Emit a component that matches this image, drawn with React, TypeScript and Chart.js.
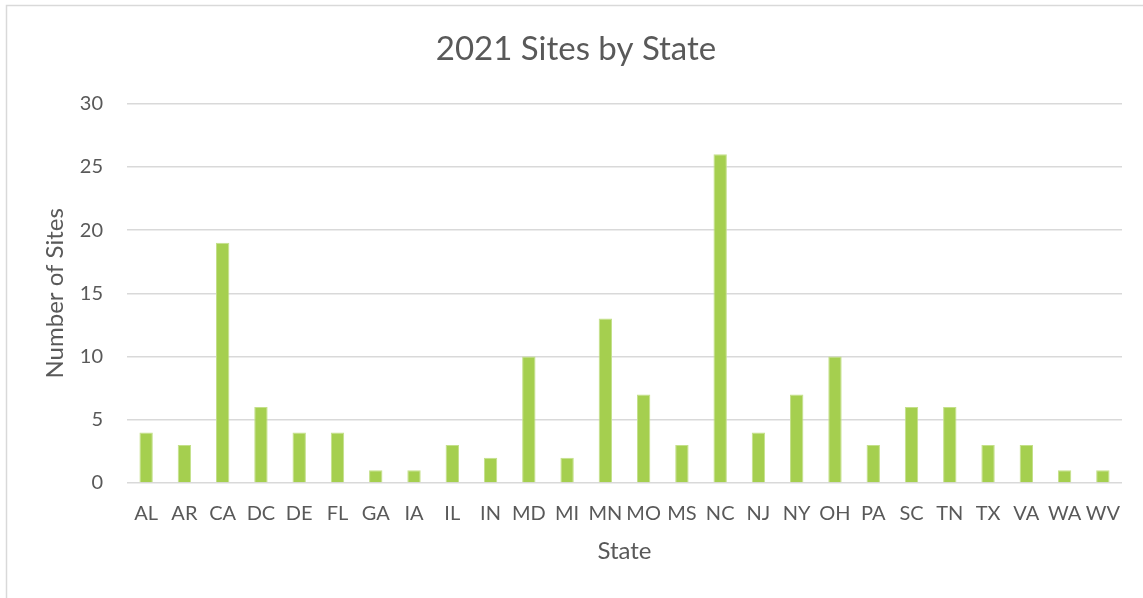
import React, { useEffect, useRef } from "react";
import { Chart, registerables } from "chart.js";

Chart.register(...registerables);

const states = ["AL","AR","CA","DC","DE","FL","GA","IA","IL","IN","MD","MI","MN","MO","MS","NC","NJ","NY","OH","PA","SC","TN","TX","VA","WA","WV"];
const sites = [4,3,19,6,4,4,1,1,3,2,10,2,13,7,3,26,4,7,10,3,6,6,3,3,1,1];
const yTicks = [0,5,10,15,20,25,30];

const FONT = "Lato, 'Open Sans', sans-serif";
const GRAY = "#595959";

const borderPlugin = {
  id: "outerBorder",
  beforeDraw(chart: any) {
    const ctx = chart.ctx;
    ctx.save();
    ctx.strokeStyle = "#d9d9d9";
    ctx.lineWidth = 1.5;
    ctx.strokeRect(6.5, 5.5, chart.width + 10, chart.height + 10);
    ctx.restore();
  },
};

export default function App() {
  const ref = useRef<HTMLCanvasElement>(null);
  useEffect(() => {
    document.body.style.margin = "0";
    const chart = new Chart(ref.current!, {
      type: "bar",
      data: {
        labels: states,
        datasets: [
          {
            data: sites,
            backgroundColor: "#a5cf4f",
            borderColor: "#c4e08a",
            borderWidth: 1,
            categoryPercentage: 1,
            barPercentage: 0.35,
          },
        ],
      },
      options: {
        responsive: false,
        animation: false,
        layout: { padding: { left: 30, right: 21, top: 14, bottom: 20 } },
        plugins: {
          legend: { display: false },
          tooltip: { enabled: false },
          title: {
            display: true,
            text: "2021 Sites by State",
            color: GRAY,
            font: { family: FONT, size: 33, weight: "normal" },
            padding: { top: 16, bottom: 34 },
          },
        },
        scales: {
          x: {
            grid: { display: false, drawTicks: false },
            border: { display: false },
            afterFit: (axis: any) => {
              axis.height = 95;
            },
            ticks: {
              color: GRAY,
              font: { family: FONT, size: 20 },
              padding: 19,
              autoSkip: false,
              maxRotation: 0,
            },
            title: {
              display: true,
              text: "State",
              color: GRAY,
              font: { family: FONT, size: 24 },
              padding: { top: 0, bottom: 12 },
            },
          },
          y: {
            min: 0,
            max: 30,
            afterBuildTicks: (axis: any) => {
              axis.ticks = yTicks.map((v) => ({ value: v }));
            },
            afterFit: (axis: any) => {
              axis.width = 97;
            },
            grid: { color: "#d9d9d9", lineWidth: 1.5, drawTicks: false },
            border: { display: false },
            ticks: {
              color: GRAY,
              font: { family: FONT, size: 20 },
              padding: 24,
            },
            title: {
              display: true,
              text: "Number of Sites",
              color: GRAY,
              font: { family: FONT, size: 24 },
              padding: { top: 11, bottom: 0 },
            },
          },
        },
      },
      plugins: [borderPlugin],
    });
    return () => chart.destroy();
  }, []);
  return <canvas ref={ref} width={1143} height={598} style={{ display: "block" }} />;
}
